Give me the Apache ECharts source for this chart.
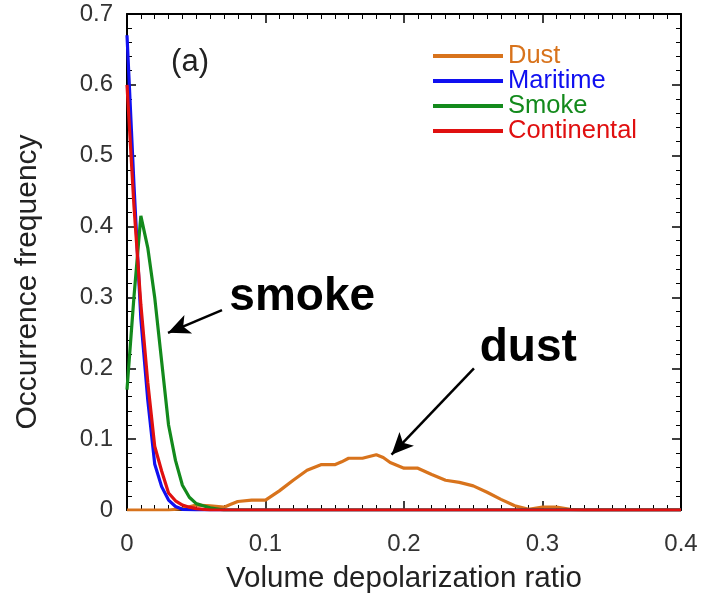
<!DOCTYPE html>
<html><head><meta charset="utf-8">
<script src="https://cdn.jsdelivr.net/npm/echarts@6/dist/echarts.min.js"></script>
<style>html,body{margin:0;padding:0;background:#fff}#c{width:706px;height:593px}</style>
</head><body><div id="c"></div>
<script>
// Data (x = volume depolarization ratio, y = occurrence frequency)
const dustX = [0, 0.03, 0.04, 0.05, 0.06, 0.07, 0.075, 0.08, 0.09, 0.1, 0.11, 0.12, 0.13, 0.14, 0.15, 0.155, 0.16, 0.17, 0.18, 0.185, 0.19, 0.2, 0.21, 0.22, 0.23, 0.24, 0.25, 0.26, 0.27, 0.28, 0.29, 0.3, 0.31, 0.32, 0.33, 0.4];
const dustY = [0, 0, 0.002, 0.007, 0.006, 0.004, 0.008, 0.012, 0.014, 0.014, 0.027, 0.042, 0.056, 0.064, 0.064, 0.068, 0.073, 0.073, 0.078, 0.074, 0.067, 0.059, 0.059, 0.05, 0.042, 0.039, 0.034, 0.025, 0.015, 0.006, 0.001, 0.004, 0.004, 0.001, 0, 0];
const maritimeX = [0, 0.005, 0.01, 0.015, 0.02, 0.025, 0.03, 0.035, 0.04, 0.05, 0.4];
const maritimeY = [0.67, 0.46, 0.27, 0.155, 0.065, 0.033, 0.014, 0.005, 0.001, 0, 0];
const smokeX = [0, 0.005, 0.01, 0.015, 0.02, 0.025, 0.03, 0.035, 0.04, 0.045, 0.05, 0.055, 0.06, 0.07, 0.4];
const smokeY = [0.17, 0.30, 0.415, 0.37, 0.30, 0.21, 0.12, 0.07, 0.035, 0.018, 0.009, 0.006, 0.003, 0, 0];
const continentalX = [0, 0.005, 0.01, 0.015, 0.02, 0.025, 0.03, 0.035, 0.04, 0.045, 0.05, 0.06, 0.4];
const continentalY = [0.60, 0.43, 0.29, 0.18, 0.09, 0.055, 0.024, 0.013, 0.007, 0.004, 0.002, 0, 0];
const seriesNames = ['Dust', 'Maritime', 'Smoke', 'Continental'];
const xTickRange = [0, 0.4];
const yTickRange = [0, 0.7];
// Annotations (data coordinates)
const smokeArrow = [[0.0686, 0.282], [0.0296, 0.25]];
const dustArrow = [[0.2505, 0.200], [0.191, 0.078]];
const smokeLabelAt = [0.1265, 0.300];
const dustLabelAt = [0.2897, 0.228];
const panelLabelAt = [0.0455, 0.632];

const colors = {Dust: '#d8731c', Maritime: '#1010f0', Smoke: '#138a1c', Continental: '#e01010'};
const FONT = '"Liberation Sans", Arial, sans-serif';
const pairs = (xs, ys) => xs.map((x, i) => [x, ys[i]]);
const seriesData = {
  Dust: pairs(dustX, dustY),
  Maritime: pairs(maritimeX, maritimeY),
  Smoke: pairs(smokeX, smokeY),
  Continental: pairs(continentalX, continentalY)
};
const fmt = v => (Math.abs(v) < 1e-9 ? '0' : v.toFixed(1));

const axisCommon = {
  axisLine: {show: true, onZero: false, lineStyle: {color: '#000', width: 2}},
  axisTick: {show: true, inside: true, length: 9, lineStyle: {color: '#000', width: 1.5}},
  minorTick: {show: true, length: 5, lineStyle: {color: '#000', width: 1}},
  splitLine: {show: false}
};

const chart = echarts.init(document.getElementById('c'), null, {renderer: 'canvas'});
const option = {
  animation: false,
  backgroundColor: '#fff',
  grid: {left: 127, right: 25, top: 14, bottom: 83, containLabel: false, outerBoundsMode: 'none'},
  xAxis: [
    Object.assign({}, axisCommon, {
      type: 'value', position: 'bottom', min: xTickRange[0], max: xTickRange[1], interval: 0.1,
      minorTick: Object.assign({}, axisCommon.minorTick, {splitNumber: 10}),
      name: 'Volume depolarization ratio', nameLocation: 'middle', nameGap: 54,
      nameTextStyle: {fontFamily: FONT, fontSize: 29.5, color: '#222'},
      axisLabel: {formatter: fmt, fontFamily: FONT, fontSize: 24, color: '#333', margin: 22}
    }),
    Object.assign({}, axisCommon, {
      type: 'value', position: 'top', min: xTickRange[0], max: xTickRange[1], interval: 0.1,
      minorTick: Object.assign({}, axisCommon.minorTick, {splitNumber: 10}),
      axisLabel: {show: false}
    })
  ],
  yAxis: [
    Object.assign({}, axisCommon, {
      type: 'value', position: 'left', min: yTickRange[0], max: yTickRange[1], interval: 0.1,
      minorTick: Object.assign({}, axisCommon.minorTick, {splitNumber: 5}),
      name: 'Occurrence frequency', nameLocation: 'middle', nameGap: 84,
      nameTextStyle: {fontFamily: FONT, fontSize: 30, color: '#222', padding: [0, 40, 0, 0]},
      axisLabel: {formatter: fmt, fontFamily: FONT, fontSize: 24, color: '#333', margin: 14}
    }),
    Object.assign({}, axisCommon, {
      type: 'value', position: 'right', min: yTickRange[0], max: yTickRange[1], interval: 0.1,
      minorTick: Object.assign({}, axisCommon.minorTick, {splitNumber: 5}),
      axisLabel: {show: false}
    })
  ],
  legend: {
    orient: 'vertical', left: 428, top: 38, itemGap: -1, itemWidth: 70, itemHeight: 4,
    icon: 'rect',
    data: seriesNames.map(n => ({name: n, textStyle: {color: colors[n]}})),
    textStyle: {fontFamily: FONT, fontSize: 25.5, lineHeight: 23}
  },
  series: seriesNames.map(n => ({
    name: n, type: 'line', data: seriesData[n], showSymbol: false, symbol: 'none',
    lineStyle: {color: colors[n], width: 3.2}, itemStyle: {color: colors[n]}, clip: true, z: 3
  })).concat([{
    name: 'annot', type: 'line', data: [], silent: true, z: 5,
    markLine: {
      silent: true, symbol: ['none', 'arrow'], symbolSize: [15, 22],
      lineStyle: {color: '#000', width: 2.5, type: 'solid'}, label: {show: false},
      data: [
        [{coord: smokeArrow[0]}, {coord: smokeArrow[1]}],
        [{coord: dustArrow[0]}, {coord: dustArrow[1]}]
      ]
    }
  }])
};
chart.setOption(option);

const px = p => chart.convertToPixel({xAxisIndex: 0, yAxisIndex: 0}, p);
const sp = px(smokeLabelAt), dp = px(dustLabelAt), ap = px(panelLabelAt);
chart.setOption({
  graphic: [
    {type: 'text', x: sp[0], y: sp[1], style: {text: 'smoke', font: 'bold 46px ' + FONT, fill: '#000', align: 'center', verticalAlign: 'middle'}},
    {type: 'text', x: dp[0], y: dp[1], style: {text: 'dust', font: 'bold 46px ' + FONT, fill: '#000', align: 'center', verticalAlign: 'middle'}},
    {type: 'text', x: ap[0], y: ap[1], style: {text: '(a)', font: '31px ' + FONT, fill: '#222', align: 'center', verticalAlign: 'middle'}}
  ]
});
</script>
</body></html>
